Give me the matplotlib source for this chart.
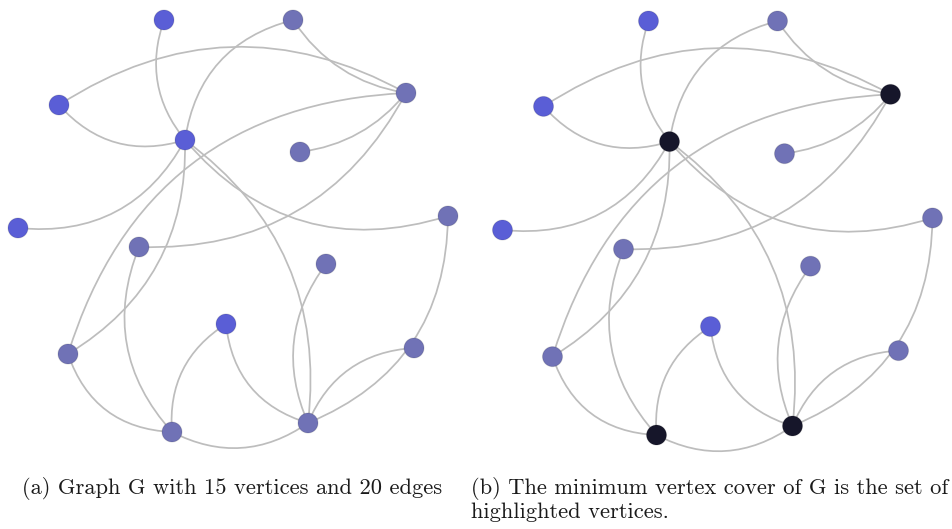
import matplotlib
matplotlib.use("Agg")
import matplotlib.pyplot as plt
from matplotlib.path import Path
from matplotlib.patches import PathPatch

# vertex positions (pixels of panel a, y down)
node_names = ["A", "B", "C", "D", "E", "F", "G", "H", "I", "J", "K", "L", "M", "N", "O"]
node_x = [164, 293, 59, 406, 185, 300, 18, 448, 139, 326, 226, 68, 414, 172, 308]
node_y = [20, 20, 105, 93, 140, 152, 228, 216, 247, 264, 324, 354, 348, 432, 423]

# vertices drawn in the brighter blue
bright_nodes = ["A", "C", "E", "G", "K"]
# minimum vertex cover shown in panel b
cover_nodes = ["D", "E", "N", "O"]

edges = [
    ("A", "E"), ("C", "E"), ("C", "D"), ("B", "E"), ("B", "D"),
    ("D", "F"), ("D", "L"), ("D", "I"), ("E", "H"), ("E", "O"),
    ("E", "G"), ("E", "L"), ("I", "N"), ("L", "N"), ("N", "O"),
    ("K", "N"), ("K", "O"), ("J", "O"), ("M", "O"), ("H", "O"),
]
edge_bend = [
    0.28, 0.32, -0.30, 0.33, 0.22,
    -0.20, 0.35, -0.31, 0.33, -0.29,
    -0.33, -0.29, 0.31, 0.34, 0.30,
    0.30, 0.33, 0.29, 0.31, -0.33,
]

caption_a = "(a) Graph G with 15 vertices and 20 edges"
caption_b = ["(b) The minimum vertex cover of G is the set of",
             "highlighted vertices."]

BRIGHT = "#5a5ed6"
MUTED = "#7072b6"
DARK = "#16162a"
EDGE = "#bdbdbd"

W, H = 953, 529
pos = {n: (x, y) for n, x, y in zip(node_names, node_x, node_y)}


def draw_graph(ax, highlight):
    for (u, v), rad in zip(edges, edge_bend):
        x1, y1 = pos[u]
        x2, y2 = pos[v]
        dx, dy = x2 - x1, y2 - y1
        cx = (x1 + x2) / 2 - rad * dy
        cy = (y1 + y2) / 2 + rad * dx
        path = Path([(x1, y1), (cx, cy), (x2, y2)],
                    [Path.MOVETO, Path.CURVE3, Path.CURVE3])
        ax.add_patch(PathPatch(path, fc="none", ec=EDGE, lw=1.25, zorder=1))

    colors = []
    for n in node_names:
        if n in highlight:
            colors.append(DARK)
        elif n in bright_nodes:
            colors.append(BRIGHT)
        else:
            colors.append(MUTED)
    ax.scatter(node_x, node_y, s=(20 * 0.72) ** 2, c=colors,
               edgecolors=(0, 0, 0, 0.12), linewidths=0.8, zorder=3)
    ax.set_xlim(0, ax.get_position().width * W)
    ax.set_ylim(450, 0)
    ax.axis("off")


plt.rcParams["font.family"] = ["cmr10", "DejaVu Serif"]
fig = plt.figure(figsize=(W / 100, H / 100), dpi=100)

ax_a = fig.add_axes([0, (H - 450) / H, 470 / W, 450 / H])
draw_graph(ax_a, [])

ax_b = fig.add_axes([484.5 / W, (H - 453.1) / H, 468 / W, 452.2 / H])
draw_graph(ax_b, cover_nodes)

fig.text(232.5 / W, (H - 494) / H, caption_a, ha="center", va="baseline",
         fontsize=16.2, color="#1a1a1a")
for i, line in enumerate(caption_b):
    fig.text(471 / W, (H - 494 - 24 * i) / H, line, ha="left", va="baseline",
             fontsize=16.2, color="#1a1a1a")

fig.savefig("out.png", dpi=100, facecolor="white")
